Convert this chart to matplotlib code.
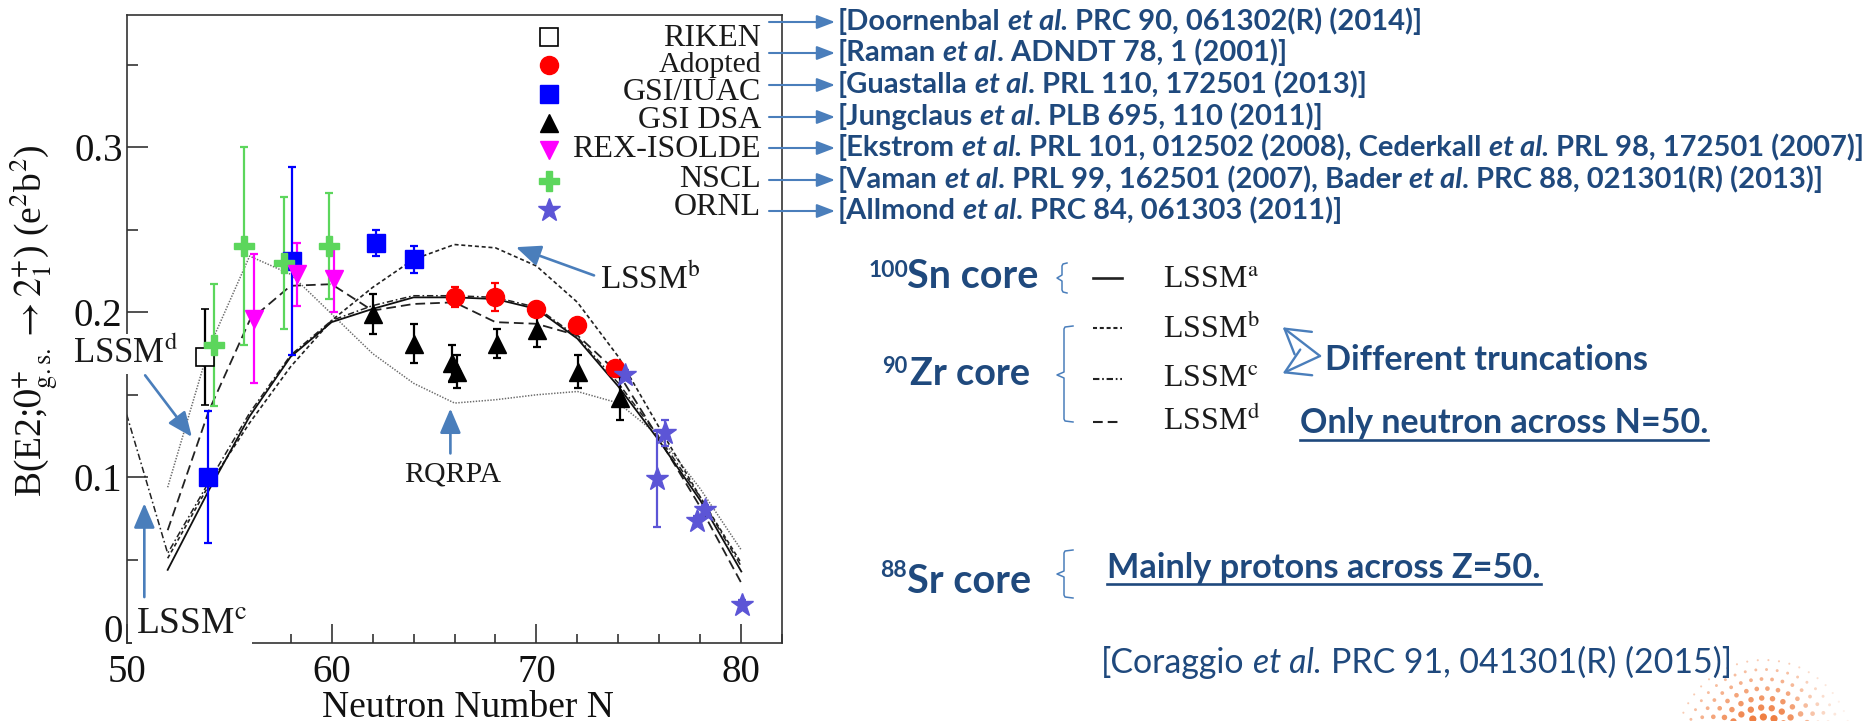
import numpy as np
import matplotlib
matplotlib.use("Agg")
import matplotlib.pyplot as plt
from matplotlib.ticker import FixedLocator, FixedFormatter, MultipleLocator

plt.rcParams["font.family"] = "serif"
plt.rcParams["font.serif"] = ["Liberation Serif", "DejaVu Serif"]
plt.rcParams["mathtext.fontset"] = "stix"
plt.rcParams["lines.scale_dashes"] = False

# ---------------- data ----------------
# theory curves (B(E2) in e^2 b^2 versus neutron number)
n_theory = [52, 54, 56, 58, 60, 62, 64, 66, 68, 70, 72, 74, 76, 78, 80]
lssm_a = [0.044, 0.092, 0.137, 0.173, 0.194, 0.202, 0.209, 0.209, 0.208, 0.202, 0.184, 0.155, 0.122, 0.086, 0.043]
lssm_b = [0.051, 0.095, 0.133, 0.167, 0.195, 0.215, 0.232, 0.241, 0.239, 0.228, 0.206, 0.173, 0.130, 0.088, 0.048]
n_lssm_c = [50, 52, 54, 56, 58, 60, 62, 64, 66, 68, 70, 72, 74, 76, 78, 80]
lssm_c = [0.138, 0.054, 0.097, 0.139, 0.174, 0.195, 0.204, 0.210, 0.210, 0.209, 0.203, 0.185, 0.157, 0.124, 0.088, 0.046]
lssm_d = [0.068, 0.140, 0.195, 0.216, 0.217, 0.201, 0.205, 0.206, 0.194, 0.193, 0.186, 0.163, 0.123, 0.082, 0.036]
rqrpa = [0.094, 0.178, 0.234, 0.223, 0.199, 0.175, 0.157, 0.145, 0.147, 0.150, 0.152, 0.145, 0.125, 0.093, 0.056]

# measurements (points drawn slightly offset in N where they overlap)
riken_n = [53.8]
riken_b = [0.173]
riken_err = [0.029]

adopted_n = [66.0, 68.0, 70.0, 72.0, 73.85]
adopted_b = [0.209, 0.209, 0.202, 0.192, 0.166]
adopted_err = [0.006, 0.0085, 0.004, 0.002, 0.003]

gsi_iuac_n = [53.95, 58.05, 62.15, 64.03]
gsi_iuac_b = [0.100, 0.231, 0.242, 0.232]
gsi_iuac_err = [0.040, 0.057, 0.008, 0.008]

gsi_dsa_n = [62.04, 64.04, 65.9, 66.12, 68.06, 70.03, 72.04, 74.06]
gsi_dsa_b = [0.199, 0.181, 0.169, 0.164, 0.181, 0.189, 0.164, 0.148]
gsi_dsa_err = [0.012, 0.012, 0.011, 0.010, 0.009, 0.010, 0.010, 0.013]

rex_n = [56.2, 58.3, 60.13]
rex_b = [0.196, 0.223, 0.220]
rex_err = [0.039, 0.019, 0.020]

nscl_n = [54.24, 55.71, 57.7, 59.87]
nscl_b = [0.180, 0.240, 0.230, 0.240]
nscl_err = [0.037, 0.060, 0.040, 0.032]

ornl_n = [74.34, 75.86, 76.27, 77.82, 78.22, 80.05]
ornl_b = [0.162, 0.099, 0.127, 0.0735, 0.080, 0.023]
ornl_err = [0.003, 0.029, 0.008, 0.003, 0.003, 0.003]

legend_labels = ["RIKEN", "Adopted", "GSI/IUAC", "GSI DSA", "REX-ISOLDE", "NSCL", "ORNL"]

xticks = [50, 60, 70, 80]
yticks = [0, 0.1, 0.2, 0.3]
ytick_labels = ["0", "0.1", "0.2", "0.3"]

references = [
    [("[Doornenbal ", False), ("et al.", True), (" PRC 90, 061302(R) (2014)]", False)],
    [("[Raman ", False), ("et al", True), (". ADNDT 78, 1 (2001)]", False)],
    [("[Guastalla ", False), ("et al", True), (". PRL 110, 172501 (2013)]", False)],
    [("[Jungclaus ", False), ("et al", True), (". PLB 695, 110 (2011)]", False)],
    [("[Ekstrom ", False), ("et al.", True), (" PRL 101, 012502 (2008), Cederkall ", False),
     ("et al.", True), (" PRL 98, 172501 (2007)]", False)],
    [("[Vaman ", False), ("et al", True), (". PRL 99, 162501 (2007), Bader ", False),
     ("et al", True), (". PRC 88, 021301(R) (2013)]", False)],
    [("[Allmond ", False), ("et al", True), (". PRC 84, 061303 (2011)]", False)],
]

# ---------------- figure ----------------
W, H = 1870, 721
fig = plt.figure(figsize=(W / 100, H / 100), dpi=100)
fig.patch.set_facecolor("white")

AX_L, AX_R, AX_T, AX_B = 126.7, 782.3, 15.0, 642.5
ax = fig.add_axes([AX_L / W, 1 - AX_B / H, (AX_R - AX_L) / W, (AX_B - AX_T) / H])
ax.set_xlim(50, 82)
ax.set_ylim(0, 0.38)

BLUE_ARROW = "#4a7ebb"
TXT_BLUE = "#1f497d"
INK = "#1a1a1a"

style_a = "-"
style_b = (0, (2.9, 2.0))
style_c = (0, (4.6, 2.0, 1.2, 2.0))
style_d = (0, (7.0, 3.6))
style_rq = (0, (1.0, 1.1))

ax.plot(n_theory, rqrpa, color="#6a6a6a", lw=1.1, ls=style_rq, zorder=2)
ax.plot(n_lssm_c, lssm_c, color="#222222", lw=1.1, ls=style_c, zorder=2)
ax.plot(n_theory, lssm_b, color="#222222", lw=1.2, ls=style_b, zorder=2)
ax.plot(n_theory, lssm_d, color="#222222", lw=1.3, ls=style_d, zorder=2)
ax.plot(n_theory, lssm_a, color="#111111", lw=1.3, ls=style_a, zorder=2)

eb = dict(elinewidth=1.6, capsize=2.8, capthick=1.6, ls="none", zorder=4)
ax.errorbar(gsi_iuac_n, gsi_iuac_b, yerr=gsi_iuac_err, marker="s", ms=12.7,
            color="#0000ff", mec="#0000ff", **eb)
ax.errorbar(riken_n, riken_b, yerr=riken_err, marker="s", ms=13.0, color="black",
            mfc="white", mec="black", mew=1.2, **eb)
ax.errorbar(nscl_n, nscl_b, yerr=nscl_err, marker="P", ms=14.5, color="#5cd65c", **eb)
ax.errorbar(rex_n, rex_b, yerr=rex_err, marker="v", ms=13.5, color="#ff00ff", **eb)
ax.errorbar(gsi_dsa_n, gsi_dsa_b, yerr=gsi_dsa_err, marker="^", ms=13.0, color="black", **eb)
ax.errorbar(adopted_n, adopted_b, yerr=adopted_err, marker="o", ms=13.0, color="#ff0000", **eb)
ax.errorbar(ornl_n, ornl_b, yerr=ornl_err, marker="*", ms=17.0, color="#5c55d6", **eb)

# axes styling
for s in ax.spines.values():
    s.set_linewidth(1.2)
    s.set_color("#333333")
ax.xaxis.set_major_locator(FixedLocator(xticks))
ax.xaxis.set_minor_locator(MultipleLocator(2))
ax.yaxis.set_major_locator(FixedLocator(yticks))
ax.yaxis.set_major_formatter(FixedFormatter(ytick_labels))
ax.yaxis.set_minor_locator(MultipleLocator(0.05))
ax.tick_params(which="both", direction="in", top=False, right=False, width=1.2,
               color="#333333", labelsize=28, labelcolor="#111111")
ax.tick_params(axis="x", which="major", length=13.7, pad=8)
ax.tick_params(axis="x", which="minor", length=6.8)
ax.tick_params(axis="y", which="major", length=14.9, pad=3)
ax.tick_params(axis="y", which="minor", length=7.7)
# the "0" at the origin sits on its baseline so it clears the "50" below it
ax.get_yticklabels()[0].set_verticalalignment("baseline")

ax.set_xlabel("Neutron Number N", fontsize=27, color="#111111")
ax.xaxis.set_label_coords(0.521, -0.118)
ax.xaxis.label.set_verticalalignment("baseline")
ax.set_ylabel(r"B(E2;$0^{+}_{\rm g.s.}\rightarrow 2^{+}_{1}$) (e$^{2}$b$^{2}$)",
              fontsize=27, color="#111111")
ax.yaxis.set_label_coords((34 - AX_L) / (AX_R - AX_L), (AX_B - 321) / (AX_B - AX_T))
ax.yaxis.label.set_verticalalignment("center")

# curve annotations
arrow_kw = dict(arrowstyle="-|>,head_length=0.75,head_width=0.32", color=BLUE_ARROW,
                lw=1.9, mutation_scale=20, shrinkA=0, shrinkB=0)
ax.annotate("", xy=(69.0, 0.2394), xytext=(72.81, 0.2223), arrowprops=arrow_kw, zorder=6)
ax.text(73.12, 0.2143, r"LSSM$^{\rm b}$", fontsize=24, va="baseline", color=INK, zorder=6)
ax.annotate("", xy=(65.8, 0.1417), xytext=(65.8, 0.1145), arrowprops=arrow_kw, zorder=6)
ax.text(65.91, 0.0973, "RQRPA", fontsize=21.5, ha="center", va="baseline", color=INK, zorder=6)
ax.text(47.37, 0.169, r"LSSM$^{\rm d}$", fontsize=25, va="baseline", color=INK, zorder=6,
        clip_on=False, bbox=dict(fc="white", ec="none", pad=2))
ax.annotate("", xy=(53.18, 0.1245), xytext=(50.9, 0.1618), arrowprops=arrow_kw, zorder=6)
ax.text(50.46, 0.0051, r"LSSM$^{\rm c}$", fontsize=27, va="baseline", color=INK, zorder=6,
        clip_on=False, bbox=dict(fc="white", ec="none", pad=3))
ax.annotate("", xy=(50.86, 0.0843), xytext=(50.86, 0.0275), arrowprops=arrow_kw, zorder=6)

# ---------------- overlay in pixel units ----------------
ov = fig.add_axes([0, 0, 1, 1], zorder=5)
ov.set_xlim(0, W)
ov.set_ylim(H, 0)
ov.axis("off")

# legend (markers left, labels right-aligned)
leg_marker_y = [37, 65, 94, 123, 150, 181, 210]
leg_base_y = [46.5, 71.5, 100, 128, 157, 187, 215]
leg_sizes = [23, 21.5, 23, 23, 23, 23, 23]
leg_styles = [
    dict(marker="s", ms=13.0, mfc="white", mec="black", mew=1.2),
    dict(marker="o", ms=13.0, color="#ff0000"),
    dict(marker="s", ms=12.7, color="#0000ff"),
    dict(marker="^", ms=13.0, color="black"),
    dict(marker="v", ms=13.5, color="#ff00ff"),
    dict(marker="P", ms=14.5, color="#5cd65c"),
    dict(marker="*", ms=17.0, color="#5c55d6"),
]
for lab, my, by, fs, st in zip(legend_labels, leg_marker_y, leg_base_y, leg_sizes, leg_styles):
    ov.plot([549], [my], ls="none", **st)
    ov.text(761, by, lab, fontsize=fs, ha="right", va="baseline", color=INK)

renderer = fig.canvas.get_renderer()


def space_width(size, weight, style, family):
    t1 = ov.text(0, 0, "a a", fontsize=size, fontweight=weight, fontstyle=style, family=family)
    t2 = ov.text(0, 0, "aa", fontsize=size, fontweight=weight, fontstyle=style, family=family)
    w = t1.get_window_extent(renderer).width - t2.get_window_extent(renderer).width
    t1.remove()
    t2.remove()
    return w


def rich(x, y, pieces, size, color, family, weight="normal"):
    cur = x
    arts = []
    for s, italic in pieces:
        st = "italic" if italic else "normal"
        sw = space_width(size, weight, st, family)
        lead = len(s) - len(s.lstrip(" "))
        trail = len(s) - len(s.rstrip(" "))
        cur += lead * sw
        t = ov.text(cur, y, s.strip(" "), fontsize=size, fontweight=weight, fontstyle=st,
                    family=family, color=color, ha="left", va="baseline")
        cur += t.get_window_extent(renderer).width
        cur += trail * sw
        arts.append(t)
    return arts, cur - x


def fit_size(pieces, target, family, weight, probe=20.0):
    arts, w = rich(0, -100, pieces, probe, "k", family, weight)
    for a in arts:
        a.remove()
    return probe * target / w


SANS = ["Lato", "Open Sans", "DejaVu Sans"]

# references with arrows from the legend
ref_arrow_y = [22, 53, 85, 117, 148, 180, 211]
ref_size = fit_size(references[4], 1028, SANS, "bold")
for pieces, yy in zip(references, ref_arrow_y):
    ov.annotate("", xy=(835, yy), xytext=(769, yy),
                arrowprops=dict(arrowstyle="-|>,head_length=1.1,head_width=0.42",
                                mutation_scale=10, color=BLUE_ARROW, lw=1.5,
                                shrinkA=0, shrinkB=0))
    rich(838, yy + 8, pieces, ref_size, TXT_BLUE, SANS, "bold")


def core_label(x_sup, y_sup, sup, x_main, y_main, main, width):
    size = fit_size([(main, False)], width, SANS, "bold")
    rich(x_main, y_main, [(main, False)], size, TXT_BLUE, SANS, "bold")
    ov.text(x_sup, y_sup, sup, fontsize=size * 0.58, fontweight="bold", family=SANS,
            color=TXT_BLUE, ha="left", va="baseline")


core_label(869, 277, "100", 907, 288, "Sn core", 131)
core_label(882, 373, "90", 910, 385, "Zr core", 120)
core_label(880, 577, "88", 907, 593, "Sr core", 124)


def brace(x, x_hook, x_tip, y0, y1, ym):
    xs = [x_hook, x + 1, x, x, x_tip, x, x, x + 1, x_hook]
    ys = [y0, y0 + 1, y0 + 3, ym - 3, ym, ym + 3, y1 - 3, y1 - 1, y1]
    ov.plot(xs, ys, color=BLUE_ARROW, lw=1.1, solid_joinstyle="round")


brace(1062, 1067, 1057, 263, 293, 278)
brace(1064, 1073, 1057, 326, 422, 375)
brace(1064, 1073, 1057, 550, 598, 574)

# line-style key for the shell-model calculations
key_y = [277.5, 327.5, 379, 422]
key_styles = [style_a, style_b, style_c, style_d]
key_base = [288, 338, 387, 430]
key_names = [r"LSSM$^{\rm a}$", r"LSSM$^{\rm b}$", r"LSSM$^{\rm c}$", r"LSSM$^{\rm d}$"]
for ky, ks, kb, kn in zip(key_y, key_styles, key_base, key_names):
    ov.plot([1093, 1122], [ky, ky], color="#222222", lw=1.9 if ks == "-" else 1.5, ls=ks)
    ov.text(1163, kb, kn, fontsize=23, va="baseline", color=INK)

open_kw = dict(arrowstyle="->,head_length=0.5,head_width=0.3", mutation_scale=34,
               color=BLUE_ARROW, lw=1.7, shrinkA=0, shrinkB=0)
ov.annotate("", xy=(1282.7, 327.3), xytext=(1320, 356), arrowprops=open_kw)
ov.annotate("", xy=(1282.7, 373.3), xytext=(1320, 356), arrowprops=open_kw)

s_diff = fit_size([("Different truncations", False)], 323, SANS, "bold")
rich(1325, 370, [("Different truncations", False)], s_diff, TXT_BLUE, SANS, "bold")

s_only = fit_size([("Only neutron across N=50.", False)], 408, SANS, "bold")
_, w_only = rich(1300, 433, [("Only neutron across N=50.", False)], s_only, TXT_BLUE, SANS, "bold")
ov.plot([1300, 1300 + w_only], [439.5, 439.5], color=TXT_BLUE, lw=1.9)

s_main = fit_size([("Mainly protons across Z=50.", False)], 433, SANS, "bold")
_, w_main = rich(1107, 578, [("Mainly protons across Z=50.", False)], s_main, TXT_BLUE, SANS, "bold")
ov.plot([1107, 1107 + w_main], [584, 584], color=TXT_BLUE, lw=1.9)

cite = [("[Coraggio ", False), ("et al.", True), (" PRC 91, 041301(R) (2015)]", False)]
s_cite = fit_size(cite, 632, SANS, "normal")
rich(1101, 673, cite, s_cite, TXT_BLUE, SANS, "normal")

# dotted sunburst emblem in the lower right corner
cx, cy = 1764.0, 748.0
dx, dy, ds, dc = [], [], [], []
for r in np.arange(12, 92, 9.5):
    n = max(6, int(2 * np.pi * r / 10.5))
    ang = np.linspace(0, 2 * np.pi, n, endpoint=False) + r * 0.05
    for a in ang:
        x = cx + r * np.cos(a)
        y = cy + r * np.sin(a)
        if y > H + 6:
            continue
        d = max(1.8, 10.0 - 0.09 * r)
        alpha = float(np.clip(1.0 - max(0.0, x - 1785) / 55.0 * 0.7, 0.25, 1.0))
        alpha *= float(np.clip(1.15 - r / 110.0, 0.35, 1.0))
        dx.append(x)
        dy.append(y)
        ds.append((d * 0.72) ** 2)
        dc.append((0.93, 0.42, 0.15, alpha))
ov.scatter(dx, dy, s=ds, c=dc, linewidths=0)

fig.savefig("out.png", dpi=100, facecolor="white")
